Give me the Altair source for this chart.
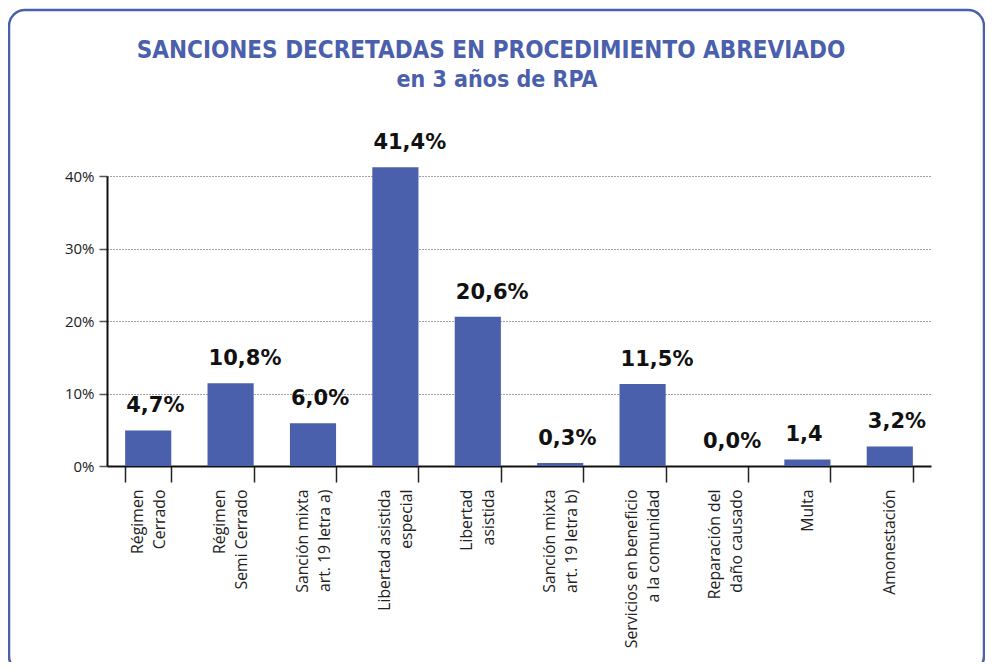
import altair as alt
import pandas as pd

# ---- data ----
categories = [
    "Régimen|Cerrado",
    "Régimen|Semi Cerrado",
    "Sanción mixta|art. 19 letra a)",
    "Libertad asistida|especial",
    "Libertad|asistida",
    "Sanción mixta|art. 19 letra b)",
    "Servicios en beneficio|a la comunidad",
    "Reparación del|daño causado",
    "Multa",
    "Amonestación",
]
values = [4.9, 11.4, 5.9, 41.2, 20.6, 0.4, 11.3, 0.0, 0.9, 2.7]
value_labels = ["4,7%", "10,8%", "6,0%", "41,4%", "20,6%", "0,3%", "11,5%", "0,0%", "1,4", "3,2%"]
y_ticks = [0, 10, 20, 30, 40]
title_line1 = "SANCIONES DECRETADAS EN PROCEDIMIENTO ABREVIADO"
title_line2 = "en 3 años de RPA"

BLUE = "#4a60ac"

df = pd.DataFrame({"cat": categories, "value": values, "label": value_labels})

# two-line labels -> [line1, zwsp, line2]; one-line labels -> [zwsp, label]
# (line height 11, offset -11) so every label block is centred on its band
ZW = "\u200b"
label_expr = (
    "indexof(datum.label, '|') >= 0 ? "
    f"[split(datum.label, '|')[0], '{ZW}', split(datum.label, '|')[1]] : "
    f"['{ZW}', datum.label]"
)

x_enc = alt.X(
    "cat:N",
    sort=None,
    scale=alt.Scale(paddingInner=0.44, paddingOuter=0.22),
    axis=alt.Axis(
        title=None,
        labelAngle=-90,
        labelExpr=label_expr,
        labelOffset=-11,
        labelFont="Open Sans",
        labelFontSize=15.8,
        labelColor="#222222",
        labelLineHeight=11,
        labelPadding=7,
        labelLimit=400,
        tickBand="extent",
        tickSize=16,
        tickColor="#222222",
        tickWidth=1.5,
        domainColor="#111111",
        domainWidth=2,
        grid=False,
    ),
)
y_enc = alt.Y(
    "value:Q",
    scale=alt.Scale(domain=[0, 40], nice=False),
    axis=alt.Axis(
        title=None,
        values=y_ticks,
        labelExpr="datum.value + '%'",
        labelFont="Open Sans",
        labelFontSize=15,
        labelColor="#222222",
        labelPadding=5,
        tickSize=8,
        tickColor="#555555",
        tickWidth=1.5,
        domainColor="#111111",
        domainWidth=2,
        grid=True,
        gridDash=[1, 2],
        gridColor="#444444",
        gridWidth=1,
    ),
)

bars = alt.Chart(df).mark_bar(color=BLUE).encode(x=x_enc, y=y_enc)

texts = alt.Chart(df).mark_text(
    align="left",
    baseline="alphabetic",
    dx=-22,
    dy=-18,
    font="DejaVu Sans",
    fontWeight="bold",
    fontSize=21,
    color="#111111",
).encode(x=x_enc, y=y_enc, text="label:N")

one = alt.Data(values=[{}])

border = alt.Chart(one).mark_rect(
    cornerRadius=16, fillOpacity=0, stroke=BLUE, strokeWidth=2.5
).encode(
    x=alt.value(-98), x2=alt.value(877), y=alt.value(-166), y2=alt.value(496)
)

t1 = alt.Chart(one).mark_text(
    text=title_line1,
    font="DejaVu Sans Condensed",
    fontWeight="bold",
    fontSize=24,
    color=BLUE,
    align="center",
    baseline="alphabetic",
).encode(x=alt.value(384), y=alt.value(-118))

t2 = alt.Chart(one).mark_text(
    text=title_line2,
    font="DejaVu Sans Condensed",
    fontWeight="bold",
    fontSize=23,
    color=BLUE,
    align="center",
    baseline="alphabetic",
).encode(x=alt.value(390), y=alt.value(-89))

chart = (
    alt.layer(border, bars, texts, t1, t2)
    .properties(
        width=824,
        height=290,
        padding={"left": 99, "top": 168, "right": 54, "bottom": 196},
        autosize=alt.AutoSizeParams(type="none"),
        background="white",
    )
    .configure_view(stroke=None)
)

chart.save("out.html", embed_options={"renderer": "svg", "actions": False})
